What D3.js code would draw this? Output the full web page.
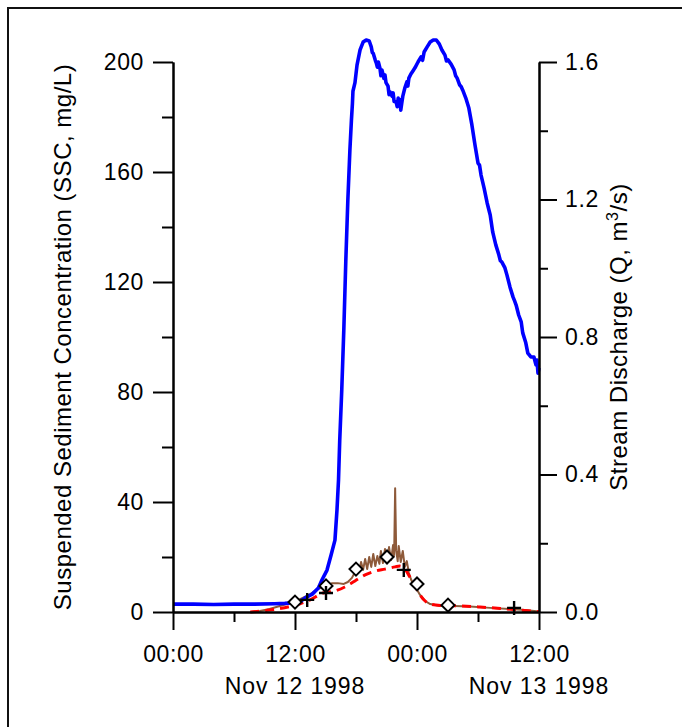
<!DOCTYPE html>
<html>
<head>
<meta charset="utf-8">
<script src="https://cdn.jsdelivr.net/npm/d3@7"></script>
<style>
  html, body { margin: 0; padding: 0; background: #fff; }
  svg { display: block; }
  text { font-family: "Liberation Sans", Arial, sans-serif; fill: #000; }
</style>
</head>
<body>
<svg id="chart" width="682" height="727"></svg>
<script>
// Storm event of 12-13 Nov 1998: time in hours after Nov 12 1998 00:00.

// Stream discharge Q (m3/s), right axis
const qHours = [0, 2, 4, 6, 8, 10, 11, 12, 12.5, 13, 13.7, 14.3, 14.65, 15.15, 15.55, 15.93, 16.13, 16.28, 16.4, 16.6, 16.8, 17.0, 17.2, 17.4, 17.55, 17.65, 17.7, 17.9, 18.1, 18.4, 18.7, 19.0, 19.3, 19.5, 19.6, 19.7, 19.9, 20.0, 20.1, 20.2, 20.35, 20.45, 20.55, 20.75, 20.85, 20.95, 21.15, 21.25, 21.35, 21.55, 21.65, 21.75, 21.95, 22.05, 22.15, 22.25, 22.35, 22.4, 22.5, 22.6, 22.8, 23.0, 23.1, 23.2, 23.4, 23.6, 23.8, 24.1, 24.4, 24.55, 24.7, 25.0, 25.3, 25.6, 25.9, 26.2, 26.45, 26.75, 26.9, 27.05, 27.35, 27.65, 27.8, 27.95, 28.2, 28.35, 28.5, 28.8, 29.1, 29.4, 29.7, 30.0, 30.15, 30.3, 30.6, 30.9, 31.2, 31.45, 31.75, 32.05, 32.2, 32.35, 32.65, 32.85, 33.15, 33.45, 33.6, 33.75, 34.0, 34.25, 34.4, 34.7, 34.9, 35.2, 35.5, 35.7, 35.8, 35.9, 36.0];
const qValues = [0.023, 0.023, 0.022, 0.023, 0.023, 0.024, 0.025, 0.027, 0.030, 0.041, 0.052, 0.070, 0.093, 0.122, 0.166, 0.209, 0.297, 0.384, 0.500, 0.646, 0.820, 1.024, 1.200, 1.344, 1.431, 1.480, 1.515, 1.540, 1.591, 1.635, 1.658, 1.664, 1.661, 1.644, 1.628, 1.625, 1.605, 1.597, 1.585, 1.600, 1.583, 1.560, 1.577, 1.552, 1.562, 1.540, 1.530, 1.505, 1.513, 1.500, 1.510, 1.485, 1.484, 1.470, 1.495, 1.472, 1.490, 1.460, 1.480, 1.500, 1.524, 1.542, 1.530, 1.553, 1.565, 1.574, 1.583, 1.600, 1.615, 1.605, 1.629, 1.644, 1.658, 1.664, 1.664, 1.652, 1.635, 1.620, 1.603, 1.606, 1.594, 1.577, 1.560, 1.553, 1.533, 1.528, 1.518, 1.495, 1.466, 1.417, 1.359, 1.306, 1.300, 1.271, 1.233, 1.190, 1.155, 1.105, 1.068, 1.039, 1.022, 1.018, 1.001, 0.980, 0.945, 0.916, 0.905, 0.893, 0.864, 0.844, 0.812, 0.783, 0.753, 0.742, 0.742, 0.719, 0.733, 0.695, 0.710];

// SSC from turbidity record (mg/L), left axis
const sscHours = [7.6, 8.55, 9.5, 10.5, 11.5, 12.5, 13.5, 14.3, 15.0, 15.65, 16.2, 16.8, 17.2, 17.6, 17.9, 18.1, 18.3, 18.5, 18.7, 18.9, 19.1, 19.3, 19.5, 19.7, 19.9, 20.1, 20.3, 20.45, 20.65, 20.85, 21.05, 21.25, 21.45, 21.65, 21.75, 21.85, 21.95, 22.1, 22.2, 22.4, 22.6, 22.8, 23.0, 23.2, 23.4, 23.6, 23.9, 24.3, 24.8, 25.3, 26.3, 27.7, 29.2, 31.2, 33.1, 34.6, 36.0];
const sscValues = [0.0, 0.4, 1.1, 2.2, 3.3, 4.7, 6.5, 8.4, 9.5, 10.5, 10.5, 10.2, 10.9, 12.4, 14.5, 16.7, 14.5, 18.2, 15.3, 19.3, 15.6, 20.0, 16.4, 21.1, 16.7, 20.4, 17.5, 22.2, 17.8, 22.9, 18.5, 23.6, 18.9, 24.4, 20.4, 45.0, 22.5, 18.5, 24.0, 18.2, 22.2, 16.4, 18.5, 14.2, 12.0, 10.2, 8.7, 6.2, 4.0, 2.9, 2.2, 2.2, 2.0, 1.5, 1.1, 0.7, 0.2];

// Modelled SSC (mg/L), dashed
const modelHours = [7.6, 9.5, 11.5, 12.5, 13.5, 14.75, 15.9, 16.9, 17.9, 18.9, 19.9, 20.85, 21.85, 22.3, 22.8, 23.3, 23.8, 24.3, 24.8, 25.3, 26.3, 28.2, 30.2, 32.2, 34.2, 36.0];
const modelValues = [0.0, 0.7, 2.0, 3.0, 4.4, 6.9, 7.6, 9.1, 11.3, 13.5, 14.9, 15.6, 16.4, 16.7, 15.6, 12.7, 9.5, 6.2, 4.0, 2.9, 2.4, 2.2, 1.8, 1.3, 0.7, 0.1];

// Sampled SSC: two sample sets
const diamondHours = [12.0, 15.05, 18.0, 21.05, 24.0, 27.05];
const diamondValues = [3.6, 9.5, 15.6, 20.0, 10.2, 2.5];
const plusHours = [13.2, 15.05, 22.7, 33.55];
const plusValues = [4.4, 6.9, 15.3, 1.5];

// Axis ticks
const xMajorTicks = [0, 12, 24, 36];
const xMinorTicks = [6, 18, 30];
const xTickLabels = ["00:00", "12:00", "00:00", "12:00"];
const xDateLabels = [{ h: 12, text: "Nov 12 1998" }, { h: 36, text: "Nov 13 1998" }];
const sscTicks = [0, 40, 80, 120, 160, 200];
const sscMinorTicks = [20, 60, 100, 140, 180];
const qTicks = [0, 0.4, 0.8, 1.2, 1.6];
const qMinorTicks = [0.2, 0.6, 1.0, 1.4];

const svg = d3.select("#chart");
const plotLeft = 173, plotRight = 539, plotTop = 62, plotBottom = 612;

const x = d3.scaleLinear().domain([0, 36]).range([plotLeft, plotRight]);
const yS = d3.scaleLinear().domain([0, 200]).range([plotBottom, plotTop]);
const yQ = d3.scaleLinear().domain([0, 1.6]).range([plotBottom, plotTop]);

// outer frame
svg.append("rect")
  .attr("x", 8).attr("y", 8).attr("width", 700).attr("height", 740)
  .attr("fill", "none").attr("stroke", "#111").attr("stroke-width", 2);

const zip = (hs, vs) => hs.map((h, i) => [h, vs[i]]);

// series
const sscLine = d3.line().x(d => x(d[0])).y(d => yS(d[1]));
const modelLine = d3.line().x(d => x(d[0])).y(d => yS(d[1])).curve(d3.curveMonotoneX);
const qLine = d3.line().x(d => x(d[0])).y(d => yQ(d[1]));

svg.append("path")
  .datum(zip(sscHours, sscValues))
  .attr("d", sscLine)
  .attr("fill", "none").attr("stroke", "#8e5a3a").attr("stroke-width", 2)
  .attr("stroke-linejoin", "round");

svg.append("path")
  .datum(zip(modelHours, modelValues))
  .attr("d", modelLine)
  .attr("fill", "none").attr("stroke", "#ff0000").attr("stroke-width", 3)
  .attr("stroke-dasharray", "9,6");

svg.append("path")
  .datum(zip(qHours, qValues))
  .attr("d", qLine)
  .attr("fill", "none").attr("stroke", "#0000ff").attr("stroke-width", 3.6)
  .attr("stroke-linejoin", "round");

// sample markers
svg.append("g").selectAll("path")
  .data(zip(diamondHours, diamondValues))
  .join("path")
  .attr("transform", d => `translate(${x(d[0])},${yS(d[1])})`)
  .attr("d", "M0,-6.5L6.5,0L0,6.5L-6.5,0Z")
  .attr("fill", "#fff").attr("stroke", "#000").attr("stroke-width", 2);

svg.append("g").selectAll("path")
  .data(zip(plusHours, plusValues))
  .join("path")
  .attr("transform", d => `translate(${x(d[0])},${yS(d[1])})`)
  .attr("d", "M-7,0H7M0,-7V7")
  .attr("fill", "none").attr("stroke", "#000").attr("stroke-width", 2.4);

// axes
function styleAxis(g) {
  g.selectAll(".domain").attr("stroke", "#000").attr("stroke-width", 2);
  g.selectAll(".tick line").attr("stroke", "#000").attr("stroke-width", 2);
  g.selectAll(".tick text")
    .style("font-family", '"Liberation Sans", Arial, sans-serif')
    .style("font-size", "23px")
    .style("letter-spacing", "0.6px")
    .attr("fill", "#000");
  g.attr("font-size", null).attr("font-family", null);
}

// x axis
svg.append("g")
  .attr("transform", `translate(0,${plotBottom})`)
  .call(d3.axisBottom(x).tickValues(xMinorTicks).tickSize(10).tickFormat("").tickSizeOuter(0))
  .call(styleAxis);
svg.append("g")
  .attr("transform", `translate(0,${plotBottom})`)
  .call(d3.axisBottom(x).tickValues(xMajorTicks).tickSize(18).tickPadding(16)
    .tickFormat((d, i) => xTickLabels[i]).tickSizeOuter(0))
  .call(styleAxis);

svg.append("g").selectAll("text")
  .data(xDateLabels)
  .join("text")
  .attr("x", d => x(d.h)).attr("y", 694)
  .attr("text-anchor", "middle")
  .style("font-size", "23px").style("letter-spacing", "0.9px")
  .text(d => d.text);

// left axis (SSC)
svg.append("g")
  .attr("transform", `translate(${plotLeft},0)`)
  .call(d3.axisLeft(yS).tickValues(sscMinorTicks).tickSize(11).tickFormat("").tickSizeOuter(0))
  .call(styleAxis);
svg.append("g")
  .attr("transform", `translate(${plotLeft},0)`)
  .call(d3.axisLeft(yS).tickValues(sscTicks).tickSize(20).tickPadding(9)
    .tickFormat(d3.format("d")).tickSizeOuter(0))
  .call(styleAxis);

// right axis (Q)
svg.append("g")
  .attr("transform", `translate(${plotRight},0)`)
  .call(d3.axisRight(yQ).tickValues(qMinorTicks).tickSize(9).tickFormat("").tickSizeOuter(0))
  .call(styleAxis);
svg.append("g")
  .attr("transform", `translate(${plotRight},0)`)
  .call(d3.axisRight(yQ).tickValues(qTicks).tickSize(18).tickPadding(8)
    .tickFormat(d3.format(".1f")).tickSizeOuter(0))
  .call(styleAxis);

// axis titles
svg.append("text")
  .attr("transform", `translate(71,${(plotTop + plotBottom) / 2}) rotate(-90)`)
  .attr("text-anchor", "middle")
  .style("font-size", "24px").style("letter-spacing", "0.5px")
  .text("Suspended Sediment Concentration (SSC, mg/L)");

const qTitle = svg.append("text")
  .attr("transform", `translate(627,${(plotTop + plotBottom) / 2}) rotate(-90)`)
  .attr("text-anchor", "middle")
  .style("font-size", "24px").style("letter-spacing", "0.5px");
qTitle.append("tspan").text("Stream Discharge (Q, m");
qTitle.append("tspan").attr("dy", -9).style("font-size", "16px").text("3");
qTitle.append("tspan").attr("dy", 9).text("/s)");
</script>
</body>
</html>
